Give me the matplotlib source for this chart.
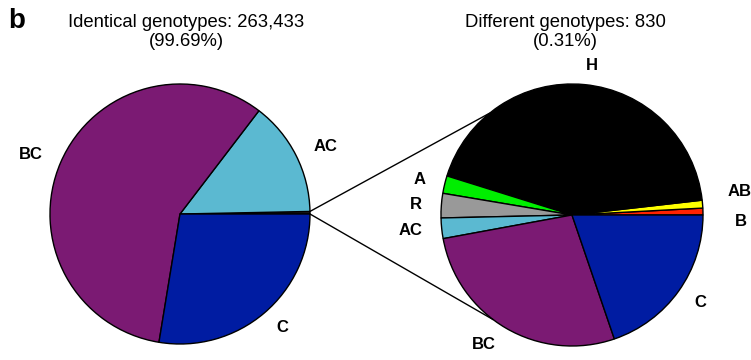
import matplotlib
matplotlib.use("Agg")
import matplotlib.pyplot as plt
import numpy as np
from matplotlib.patches import ConnectionPatch

plt.rcParams['font.family'] = ['Liberation Sans', 'DejaVu Sans']

# Identical genotypes, split by category; the last slice is the "different" group
ident_labels = ["", "AC", "BC", "C"]
ident_counts = [830, 37790, 152744, 72899]
ident_colors = ["#222222", "#5BB9D1", "#7B1A73", "#001CA2"]

# Different genotypes, by category
diff_labels = ["B", "AB", "H", "A", "R", "AC", "BC", "C"]
diff_counts = [7, 8, 360, 18, 25, 21, 227, 164]
diff_colors = ["#FF2200", "#FFFF00", "#000000", "#00EE00", "#999999",
               "#5BB9D1", "#7B1A73", "#001CA2"]

W, H = 751, 360
fig = plt.figure(figsize=(W / 100, H / 100), dpi=100)
LIM = 1.3


def pie_axes(cx, cy, r):
    size = 2 * LIM * r
    ax = fig.add_axes([(cx - size / 2) / W, (H - cy - size / 2) / H, size / W, size / H])
    return ax


wedge_kw = dict(edgecolor="black", linewidth=1.0)
text_kw = dict(fontsize=12, fontweight="bold")

ax1 = pie_axes(180, 214, 130)
ax1.pie(ident_counts, labels=ident_labels, colors=ident_colors, startangle=0,
        counterclock=True, labeldistance=1.15, wedgeprops=wedge_kw, textprops=text_kw)
ax1.set_xlim(-LIM, LIM)
ax1.set_ylim(-LIM, LIM)
ax1.set_aspect("equal")

ax2 = pie_axes(572, 215, 131)
wedges2, texts2 = ax2.pie(diff_counts, labels=diff_labels, colors=diff_colors, startangle=0,
                          counterclock=True, labeldistance=1.15, wedgeprops=wedge_kw,
                          textprops=text_kw)
ax2.set_xlim(-LIM, LIM)
ax2.set_ylim(-LIM, LIM)
ax2.set_aspect("equal")

# nudge the two thin-slice labels apart
for t in texts2:
    if t.get_text() == "AB":
        t.set_position((1.19, 0.18))
    elif t.get_text() == "B":
        t.set_position((1.24, -0.05))

# zoom lines from the small slice to the second pie
small_frac = ident_counts[0] / sum(ident_counts)
a_top = np.deg2rad(360 * small_frac)
for a_src, a_dst in [(a_top, np.deg2rad(129)), (0.0, np.deg2rad(233))]:
    con = ConnectionPatch(xyA=(np.cos(a_src), np.sin(a_src)), coordsA=ax1.transData,
                          xyB=(np.cos(a_dst), np.sin(a_dst)), coordsB=ax2.transData,
                          color="black", linewidth=1.0)
    fig.add_artist(con)

fig.text(186 / W, 1 - 32 / H, "Identical genotypes: 263,433\n(99.69%)", ha="center",
         va="center", fontsize=13.3, linespacing=1.15)
fig.text(565 / W, 1 - 32 / H, "Different genotypes: 830\n(0.31%)", ha="center",
         va="center", fontsize=13.3, linespacing=1.15)
fig.text(8 / W, 1 - 21 / H, "b", ha="left", va="center", fontsize=20, fontweight="bold")

fig.savefig("out.png", dpi=100)
